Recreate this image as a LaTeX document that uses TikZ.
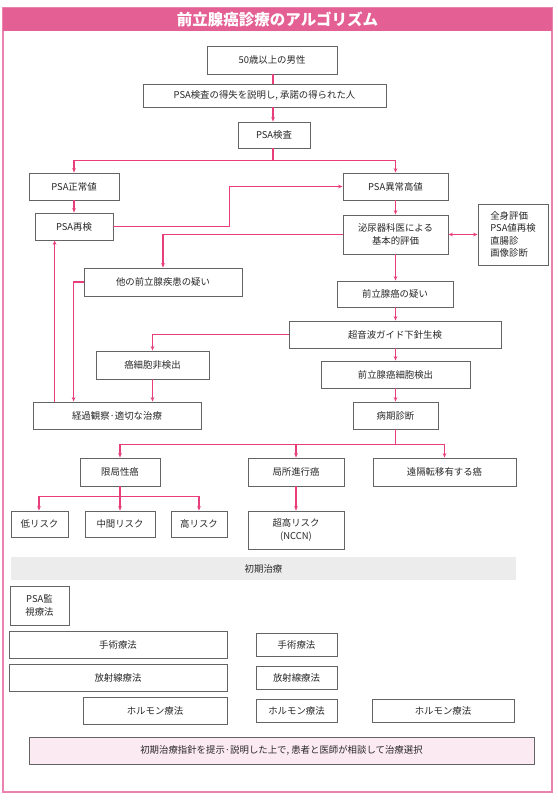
\documentclass[tikz,border=0pt]{standalone}
\usepackage{fontspec}
\setmainfont{Noto Sans CJK JP}
\usetikzlibrary{arrows.meta,calc}
\definecolor{linkpink}{RGB}{232,62,124}
\definecolor{framepink}{RGB}{236,130,176}
\definecolor{titlepink}{RGB}{228,96,148}
\definecolor{boxgray}{RGB}{100,100,100}
\definecolor{txtgray}{RGB}{40,40,40}
\definecolor{bandgray}{RGB}{236,236,236}
\definecolor{notepink}{RGB}{252,234,242}
\newcommand\boxnode[7][]{\node[box,#1,minimum width={#4-#2},minimum height={#5-#3}] (#6) at ({(#2+#4)/2},{(#3+#5)/2}) {#7};}
\begin{document}
\begin{tikzpicture}[x=1pt,y=-1pt,
  box/.style={draw=boxgray,line width=0.8pt,fill=white,inner sep=0pt,text=txtgray,
    font=\fontsize{9.4}{12.5}\selectfont,align=center},
  link/.style={draw=linkpink,line width=1.1pt},
  arr/.style={link,-{Stealth[length=4.5pt,width=3.6pt]}},
  arrtwo/.style={link,{Stealth[length=4.5pt,width=3.6pt]}-{Stealth[length=4.5pt,width=3.6pt]}}]
\useasboundingbox (0,0) rectangle (557,800);
% frame and title
\draw[framepink,line width=1.2pt] (3,8) rectangle (552,792);
\node[fill=titlepink,minimum width=549,minimum height=23,inner sep=0pt,text=white,
  font=\fontsize{15.5}{17}\selectfont\bfseries] (title) at (277.5,19.5) {前立腺癌診療のアルゴリズム};
% boxes
\boxnode{207}{46}{337}{74}{a50}{50歳以上の男性}
\boxnode{143}{84}{386}{107}{consent}{PSA検査の得失を説明し, 承諾の得られた人}
\boxnode{238}{122}{310}{148}{psa}{PSA検査}
\boxnode{29}{173}{119}{200}{normal}{PSA正常値}
\boxnode{343}{173}{448}{200}{high}{PSA異常高値}
\boxnode{35}{213}{113}{240}{retest}{PSA再検}
\boxnode{343}{215}{448}{254}{uro}{泌尿器科医による\\基本的評価}
\boxnode[align=left]{478}{204}{548}{265}{rbox}{全身評価\\PSA値再検\\直腸診\\画像診断}
\boxnode{84}{268}{242}{296}{other}{他の前立腺疾患の疑い}
\boxnode{337}{281}{453}{307}{suspect}{前立腺癌の疑い}
\boxnode{289}{321}{501}{348}{biopsy}{超音波ガイド下針生検}
\boxnode{96}{351}{209}{379}{noncancer}{癌細胞非検出}
\boxnode{321}{361}{470}{388}{detect}{前立腺癌細胞検出}
\boxnode{33}{402}{201}{429}{follow}{経過観察·適切な治療}
\boxnode{353}{402}{438}{429}{stage}{病期診断}
\boxnode{80}{458}{160}{486}{loc}{限局性癌}
\boxnode{248}{458}{344}{486}{adv}{局所進行癌}
\boxnode{373}{458}{516}{486}{dist}{遠隔転移有する癌}
\boxnode{11}{511}{68}{537}{low}{低リスク}
\boxnode{85}{511}{155}{537}{mid}{中間リスク}
\boxnode{171}{511}{227}{537}{hi}{高リスク}
\boxnode{248}{511}{344}{549}{vhigh}{超高リスク\\(NCCN)}
\boxnode[draw=none,fill=bandgray]{11}{557}{516}{580}{band}{初期治療}
\boxnode{10}{586}{69}{625}{watch}{PSA監\\視療法}
\boxnode{9}{631}{227}{658}{surgL}{手術療法}
\boxnode{256}{633}{337}{656}{surgM}{手術療法}
\boxnode{9}{664}{227}{691}{radL}{放射線療法}
\boxnode{256}{666}{337}{689}{radM}{放射線療法}
\boxnode{83}{697}{227}{724}{hormL}{ホルモン療法}
\boxnode{256}{699}{337}{722}{hormM}{ホルモン療法}
\boxnode{372}{699}{514}{722}{hormR}{ホルモン療法}
\boxnode[fill=notepink]{29}{737}{534}{764}{note}{初期治療指針を提示·説明した上で, 患者と医師が相談して治療選択}
% connectors
\coordinate (s1) at ($(a50.south)+(1,0)$);
\draw[link] (s1) -- (s1 |- consent.north);
\draw[arr] (consent.south -| s1) -- (s1 |- psa.north);
\coordinate (b1) at ($(s1 |- psa.south)+(0,12)$);
\draw[link] (s1 |- psa.south) -- (b1);
\draw[arr] (b1) -| (normal.north);
\draw[arr] (b1) -| (high.north);
\draw[arr] (normal.south) -- (retest.north);
\coordinate (k1) at ($(retest.east)+(116,0)$);
\draw[arr] (retest.east) -- (k1) |- (high.west);
\draw[arr] (high.south) -- (uro.north);
\draw[arrtwo] (uro.east) -- (rbox.west);
\draw[arr] (uro.west) -| (other.north);
\draw[arr] (uro.south) -- (uro.south |- suspect.north);
\draw[arr] (suspect.south -| uro.south) -- (uro.south |- biopsy.north);
\draw[arr] (biopsy.west) -| (noncancer.north);
\draw[arr] (biopsy.south -| uro.south) -- (uro.south |- detect.north);
\draw[arr] (noncancer.south) -- (noncancer.south |- follow.north);
\coordinate (f2) at ($(follow.north west)+(41,0)$);
\draw[arr] (other.west) -| (f2);
\coordinate (f1) at ($(follow.north west)+(22,0)$);
\draw[arr] (f1) -- (f1 |- retest.south);
\draw[arr] (detect.south -| uro.south) -- (uro.south |- stage.north);
\coordinate (b2) at ($(uro.south |- stage.south)+(0,15)$);
\draw[link] (uro.south |- stage.south) -- (b2);
\draw[arr] (b2) -| (loc.north);
\draw[arr] (b2) -| (adv.north);
\draw[arr] (b2) -| (dist.north);
\coordinate (b3) at ($(loc.south)+(0,10)$);
\draw[link] (loc.south) -- (b3);
\draw[arr] (b3) -| ($(low.north)+(-0.5,0)$);
\draw[arr] (b3) -| (mid.north);
\draw[arr] (b3) -| (hi.north);
\draw[arr] (adv.south) -- (vhigh.north);
\end{tikzpicture}
\end{document}
